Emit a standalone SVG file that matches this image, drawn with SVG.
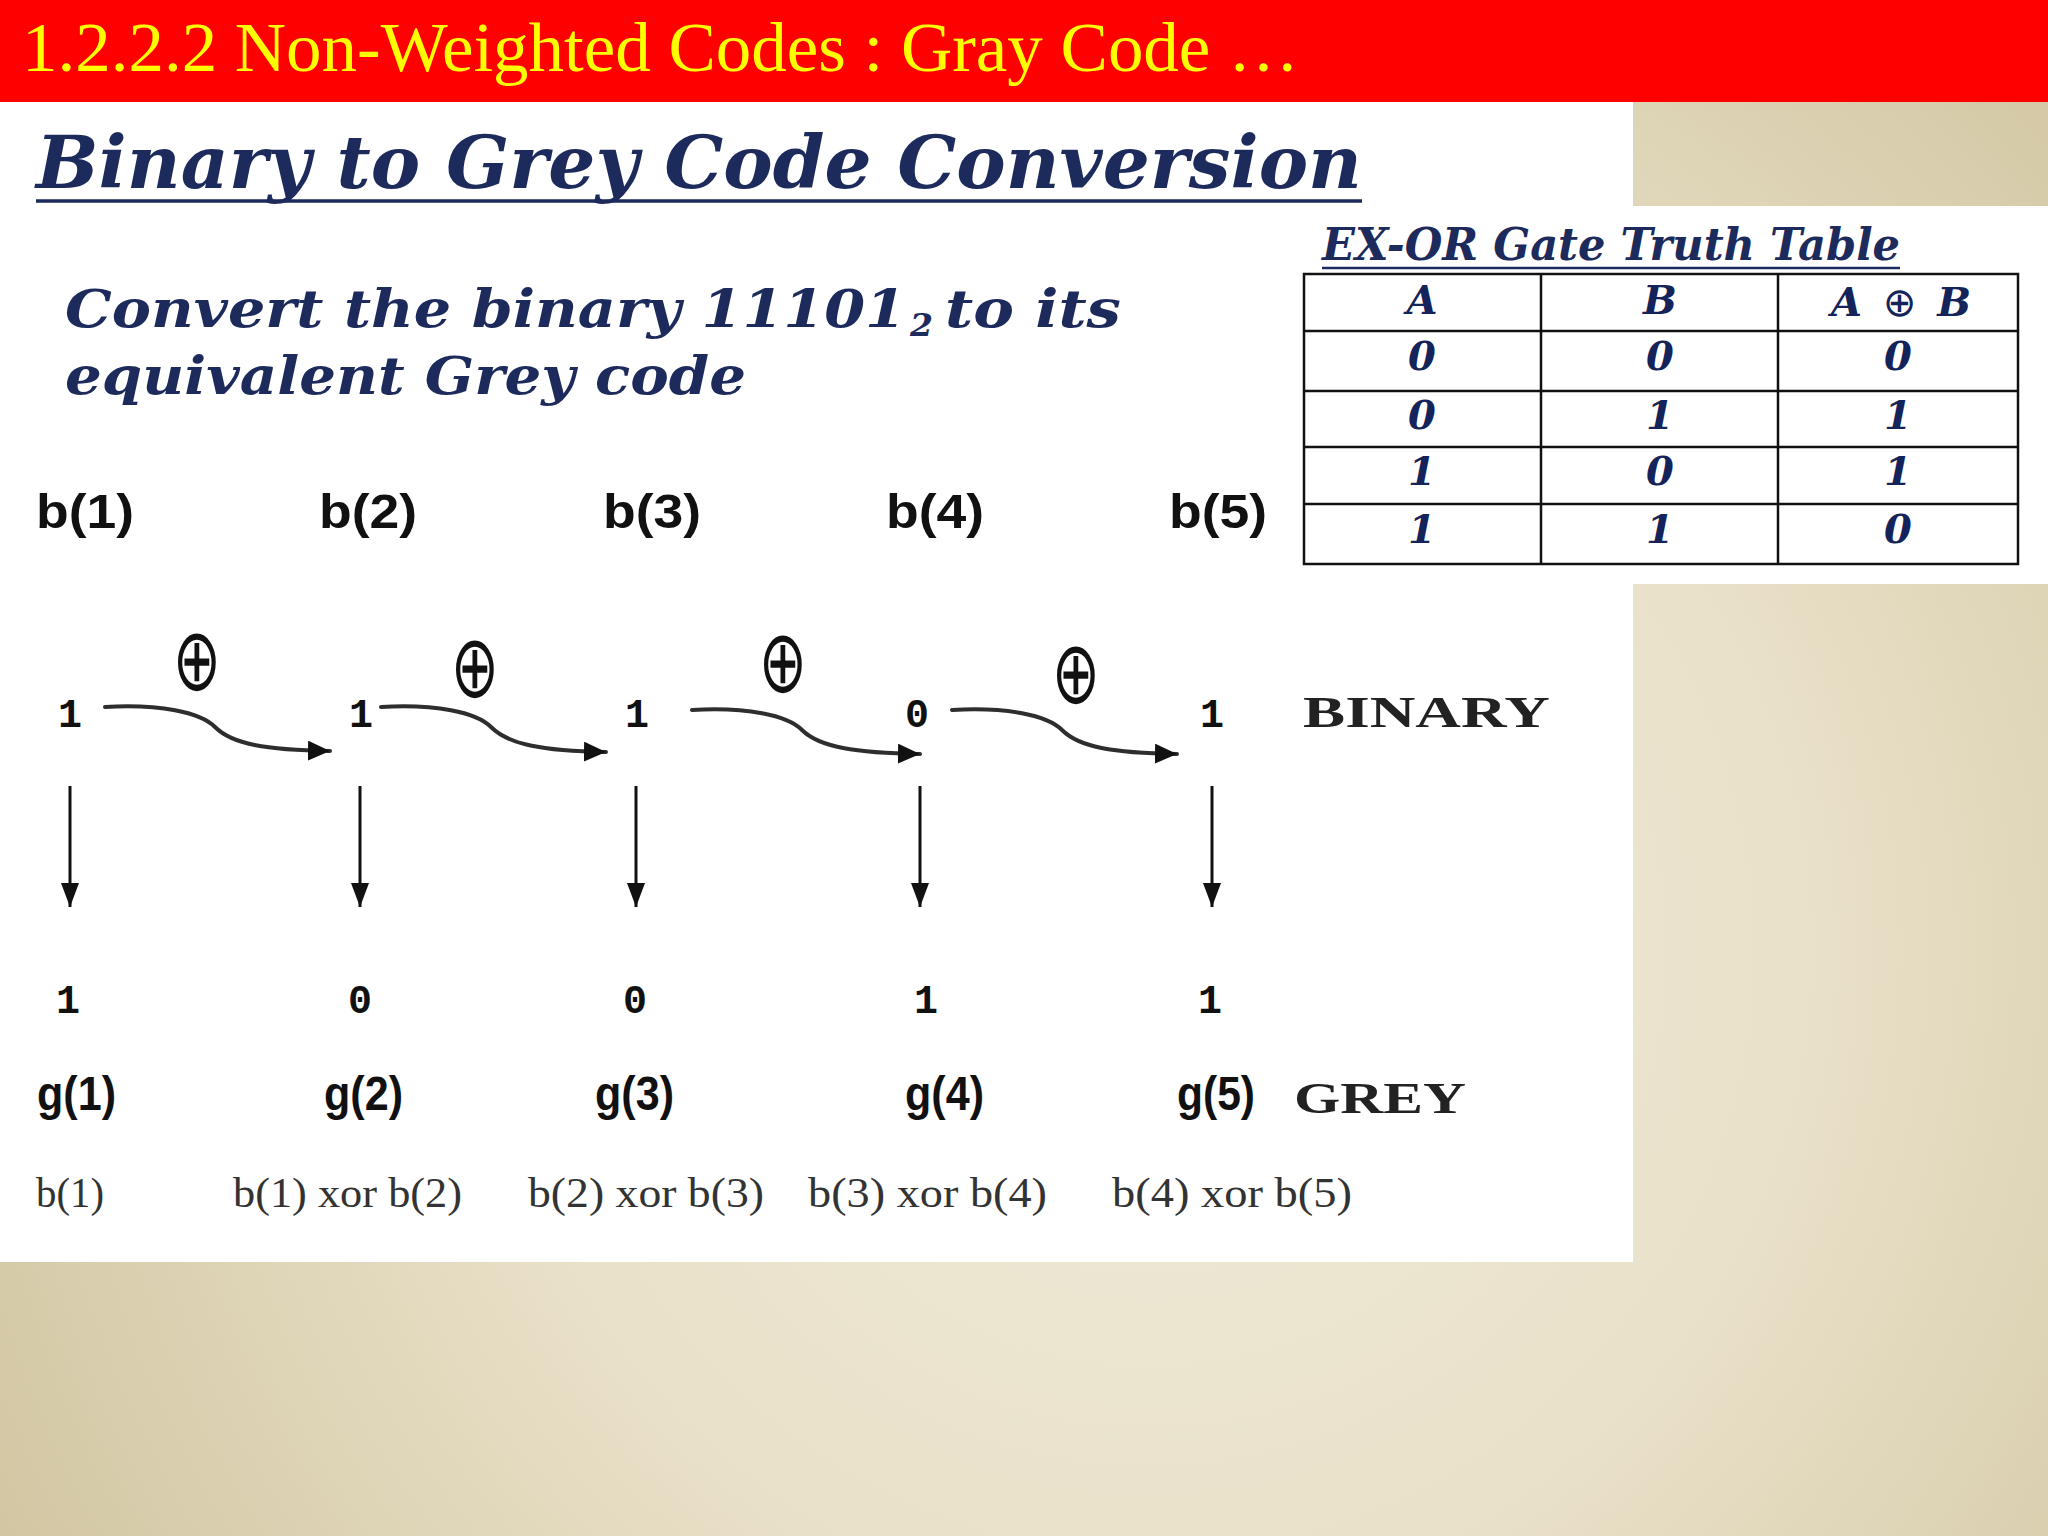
<svg xmlns="http://www.w3.org/2000/svg" width="2048" height="1536" viewBox="0 0 2048 1536">
<defs>
<radialGradient id="bg" cx="1150" cy="950" r="1300" gradientUnits="userSpaceOnUse">
<stop offset="0" stop-color="#f0ebda"/>
<stop offset="0.5" stop-color="#e9e1c9"/>
<stop offset="1" stop-color="#d2c6a2"/>
</radialGradient>
<marker id="ah" viewBox="0 0 24 18" refX="24" refY="9" markerWidth="24" markerHeight="18" markerUnits="userSpaceOnUse" orient="auto">
<path d="M0,0 L24,9 L0,18 z" fill="#111"/>
</marker>
<marker id="ahc" viewBox="0 0 22 20" refX="22" refY="10" markerWidth="22" markerHeight="20" markerUnits="userSpaceOnUse" orient="auto">
<path d="M0,0 L22,10 L0,20 z" fill="#111"/>
</marker>
</defs>
<style>
.navy{fill:#1c2a5c;font-family:"DejaVu Serif","Liberation Serif",serif;font-weight:bold;font-style:italic}
.tbl{fill:#14235a;font-family:"DejaVu Serif","Liberation Serif",serif;font-weight:bold;font-style:italic;font-size:40px;text-anchor:middle}
.lbl{fill:#111;font-family:"Liberation Sans",Arial,sans-serif;font-weight:bold;font-size:48px}
.dig{fill:#111;font-family:"Liberation Mono","Courier New",monospace;font-weight:bold;font-size:40px;text-anchor:middle}
.word{fill:#222;font-family:"Liberation Serif","Times New Roman",serif;font-weight:bold;font-size:44px}
.form{fill:#333;font-family:"Liberation Serif","Times New Roman",serif;font-size:42px}
.xor{fill:#111;font-family:"DejaVu Sans",sans-serif;font-size:64px;text-anchor:middle}
.grid{stroke:#111;stroke-width:2.5;fill:none}
.curve{fill:none;stroke:#2e2e2e;stroke-width:4;stroke-linecap:round}
.down{fill:none;stroke:#111;stroke-width:3}
</style>
<rect x="0" y="0" width="2048" height="1536" fill="url(#bg)"/>
<rect x="0" y="102" width="1633" height="1160" fill="#ffffff"/>
<rect x="0" y="206" width="2048" height="378" fill="#ffffff"/>
<g id="banner">
<rect x="0" y="0" width="2048" height="102" fill="#ff0000"/>
<text x="22" y="71" font-family="Liberation Serif,Times New Roman,serif" font-size="70" fill="#ffff00" textLength="1277" lengthAdjust="spacingAndGlyphs">1.2.2.2 Non-Weighted Codes : Gray Code …</text>
</g>
<g id="heading">
<text class="navy" x="36" y="188" font-size="72" textLength="1326" lengthAdjust="spacingAndGlyphs">Binary to Grey Code Conversion</text>
<line x1="36" y1="201" x2="1362" y2="201" stroke="#1c2a5c" stroke-width="3.5"/>
</g>
<g id="question">
<text class="navy" x="65" y="327" font-size="52" textLength="841" lengthAdjust="spacingAndGlyphs">Convert the binary 11101</text>
<text class="navy" x="910" y="336" font-size="32" textLength="23" lengthAdjust="spacingAndGlyphs">2</text>
<text class="navy" x="945" y="327" font-size="52" textLength="176" lengthAdjust="spacingAndGlyphs">to its</text>
<text class="navy" x="65" y="394" font-size="52" textLength="681" lengthAdjust="spacingAndGlyphs">equivalent Grey code</text>
</g>
<g id="truth-table">
<text class="navy" x="1322" y="260" font-size="44" textLength="578" lengthAdjust="spacingAndGlyphs">EX-OR Gate Truth Table</text>
<line x1="1322" y1="268" x2="1900" y2="268" stroke="#1c2a5c" stroke-width="2.5"/>
<rect class="grid" x="1304" y="274" width="714" height="290"/>
<line class="grid" x1="1541" y1="274" x2="1541" y2="564"/>
<line class="grid" x1="1778" y1="274" x2="1778" y2="564"/>
<line class="grid" x1="1304" y1="331" x2="2018" y2="331"/>
<line class="grid" x1="1304" y1="391" x2="2018" y2="391"/>
<line class="grid" x1="1304" y1="447" x2="2018" y2="447"/>
<line class="grid" x1="1304" y1="504" x2="2018" y2="504"/>
<text class="tbl" x="1422" y="314">A</text>
<text class="tbl" x="1660" y="314">B</text>
<text class="tbl" x="1901" y="316" textLength="140" lengthAdjust="spacing">A <tspan font-weight="normal" font-family="DejaVu Sans,sans-serif" font-style="normal">⊕</tspan> B</text>
<text class="tbl" x="1422" y="370">0</text><text class="tbl" x="1660" y="370">0</text><text class="tbl" x="1898" y="370">0</text>
<text class="tbl" x="1422" y="429">0</text><text class="tbl" x="1660" y="429">1</text><text class="tbl" x="1898" y="429">1</text>
<text class="tbl" x="1422" y="485">1</text><text class="tbl" x="1660" y="485">0</text><text class="tbl" x="1898" y="485">1</text>
<text class="tbl" x="1422" y="543">1</text><text class="tbl" x="1660" y="543">1</text><text class="tbl" x="1898" y="543">0</text>
</g>
<g id="b-labels">
<text class="lbl" x="36" y="528" textLength="98" lengthAdjust="spacingAndGlyphs">b(1)</text>
<text class="lbl" x="319" y="528" textLength="98" lengthAdjust="spacingAndGlyphs">b(2)</text>
<text class="lbl" x="603" y="528" textLength="98" lengthAdjust="spacingAndGlyphs">b(3)</text>
<text class="lbl" x="886" y="528" textLength="98" lengthAdjust="spacingAndGlyphs">b(4)</text>
<text class="lbl" x="1169" y="528" textLength="98" lengthAdjust="spacingAndGlyphs">b(5)</text>
</g>
<g id="binary-row">
<text class="dig" x="70" y="727">1</text>
<text class="dig" x="361" y="727">1</text>
<text class="dig" x="637" y="727">1</text>
<text class="dig" x="917" y="727">0</text>
<text class="dig" x="1212" y="727">1</text>
<text class="word" x="1303" y="727" textLength="247" lengthAdjust="spacingAndGlyphs">BINARY</text>
</g>
<g id="xor-symbols">
<text class="xor" transform="translate(197,660) scale(0.9,1.38)" y="22">⊕</text>
<text class="xor" transform="translate(475,667) scale(0.9,1.38)" y="22">⊕</text>
<text class="xor" transform="translate(783,662) scale(0.9,1.38)" y="22">⊕</text>
<text class="xor" transform="translate(1076,673) scale(0.9,1.38)" y="22">⊕</text>
</g>
<g id="connectors">
<path class="curve" marker-end="url(#ahc)" d="M105,707 C160,704 200,712 215,727 C232,744 265,750 330,751"/>
<path class="curve" marker-end="url(#ahc)" d="M381,707 C436,704 476,712 491,727 C508,744 541,751 606,752"/>
<path class="curve" marker-end="url(#ahc)" d="M692,710 C747,707 787,715 802,730 C819,747 855,753 920,754"/>
<path class="curve" marker-end="url(#ahc)" d="M952,710 C1007,707 1047,715 1062,730 C1079,747 1112,753 1177,754"/>
<line class="down" marker-end="url(#ah)" x1="70" y1="786" x2="70" y2="907"/>
<line class="down" marker-end="url(#ah)" x1="360" y1="786" x2="360" y2="907"/>
<line class="down" marker-end="url(#ah)" x1="636" y1="786" x2="636" y2="907"/>
<line class="down" marker-end="url(#ah)" x1="920" y1="786" x2="920" y2="907"/>
<line class="down" marker-end="url(#ah)" x1="1212" y1="786" x2="1212" y2="907"/>
</g>
<g id="grey-row">
<text class="dig" x="68" y="1013">1</text>
<text class="dig" x="360" y="1013">0</text>
<text class="dig" x="635" y="1013">0</text>
<text class="dig" x="926" y="1013">1</text>
<text class="dig" x="1210" y="1013">1</text>
</g>
<g id="g-labels">
<text class="lbl" x="37" y="1110" textLength="79" lengthAdjust="spacingAndGlyphs">g(1)</text>
<text class="lbl" x="324" y="1110" textLength="79" lengthAdjust="spacingAndGlyphs">g(2)</text>
<text class="lbl" x="595" y="1110" textLength="79" lengthAdjust="spacingAndGlyphs">g(3)</text>
<text class="lbl" x="905" y="1110" textLength="79" lengthAdjust="spacingAndGlyphs">g(4)</text>
<text class="lbl" x="1177" y="1110" textLength="78" lengthAdjust="spacingAndGlyphs">g(5)</text>
<text class="word" x="1294" y="1113" textLength="172" lengthAdjust="spacingAndGlyphs">GREY</text>
</g>
<g id="formulas">
<text class="form" x="36" y="1207" textLength="68" lengthAdjust="spacingAndGlyphs">b(1)</text>
<text class="form" x="233" y="1207" textLength="229" lengthAdjust="spacingAndGlyphs">b(1) xor b(2)</text>
<text class="form" x="528" y="1207" textLength="236" lengthAdjust="spacingAndGlyphs">b(2) xor b(3)</text>
<text class="form" x="808" y="1207" textLength="239" lengthAdjust="spacingAndGlyphs">b(3) xor b(4)</text>
<text class="form" x="1112" y="1207" textLength="240" lengthAdjust="spacingAndGlyphs">b(4) xor b(5)</text>
</g>
</svg>
